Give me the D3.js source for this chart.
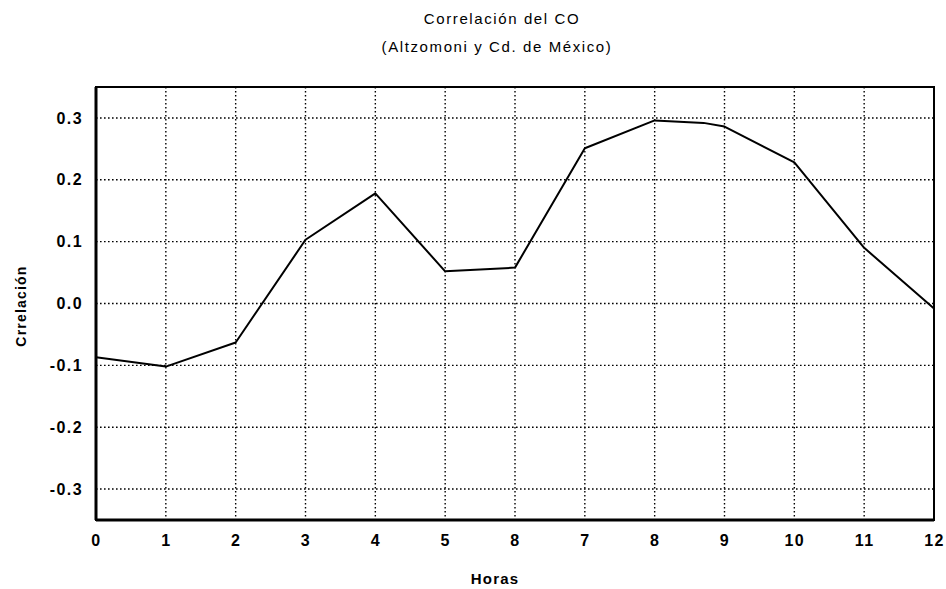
<!DOCTYPE html>
<html>
<head>
<meta charset="utf-8">
<script src="https://cdn.jsdelivr.net/npm/d3@7"></script>
<style>
  body { margin: 0; background: #fff; }
  text { font-family: Arial, "Liberation Sans", sans-serif; fill: #000; }
</style>
</head>
<body>
<div id="chart"></div>
<script>
// hours and correlation values
const horas = [0, 1, 2, 3, 4, 5, 6, 7, 8, 8.7, 9, 10, 11, 12];
const correlacion = [-0.087, -0.102, -0.063, 0.103, 0.178, 0.052, 0.058, 0.251, 0.296, 0.292, 0.286, 0.228, 0.090, -0.008];

const xTicks = [0, 1, 2, 3, 4, 5, 6, 7, 8, 9, 10, 11, 12];
const xTickLabels = ["0", "1", "2", "3", "4", "5", "8", "7", "8", "9", "10", "11", "12"];
const yTicks = [-0.3, -0.2, -0.1, 0.0, 0.1, 0.2, 0.3];

const W = 946, H = 589;
const margin = { l: 96, r: 12, t: 87, b: 69 };

const svg = d3.select("#chart").append("svg")
  .attr("width", W)
  .attr("height", H);

const x = d3.scaleLinear().domain([0, 12]).range([margin.l, W - margin.r]);
const y = d3.scaleLinear().domain([-0.35, 0.35]).range([H - margin.b, margin.t]);

// grid
const grid = svg.append("g")
  .attr("stroke", "#000")
  .attr("stroke-width", 1.4)
  .attr("stroke-dasharray", "1.6,2.4");

grid.selectAll(".gx")
  .data(xTicks.slice(1, -1))
  .join("line")
  .attr("x1", d => x(d)).attr("x2", d => x(d))
  .attr("y1", margin.t).attr("y2", H - margin.b);

grid.selectAll(".gy")
  .data(yTicks)
  .join("line")
  .attr("x1", margin.l).attr("x2", W - margin.r)
  .attr("y1", d => y(d)).attr("y2", d => y(d));

// frame
svg.append("rect")
  .attr("x", margin.l)
  .attr("y", margin.t)
  .attr("width", W - margin.l - margin.r)
  .attr("height", H - margin.t - margin.b)
  .attr("fill", "none")
  .attr("stroke", "#000")
  .attr("stroke-width", 2);

svg.append("line")
  .attr("x1", margin.l).attr("x2", margin.l)
  .attr("y1", margin.t).attr("y2", H - margin.b)
  .attr("stroke", "#000").attr("stroke-width", 3);

svg.append("line")
  .attr("x1", margin.l).attr("x2", W - margin.r)
  .attr("y1", H - margin.b).attr("y2", H - margin.b)
  .attr("stroke", "#000").attr("stroke-width", 3);

// axes labels
const yAxis = d3.axisLeft(y)
  .tickValues(yTicks)
  .tickSize(0)
  .tickPadding(13)
  .tickFormat(d => d3.format(".1f")(d).replace("−", "-"));

const gy = svg.append("g")
  .attr("transform", `translate(${margin.l},0)`)
  .call(yAxis);
gy.select(".domain").remove();
gy.selectAll("text")
  .attr("font-size", 16)
  .attr("font-weight", "bold")
  .attr("letter-spacing", 1.4)
  .attr("font-family", "Arial, 'Liberation Sans', sans-serif");

const xAxis = d3.axisBottom(x)
  .tickValues(xTicks)
  .tickSize(0)
  .tickPadding(15)
  .tickFormat((d, i) => xTickLabels[i]);

const gx = svg.append("g")
  .attr("transform", `translate(0,${H - margin.b})`)
  .call(xAxis);
gx.select(".domain").remove();
gx.selectAll("text")
  .attr("font-size", 16)
  .attr("font-weight", "bold")
  .attr("letter-spacing", 1.4)
  .attr("font-family", "Arial, 'Liberation Sans', sans-serif");

// data line
const line = d3.line()
  .x((d, i) => x(horas[i]))
  .y(d => y(d));

svg.append("path")
  .datum(correlacion)
  .attr("d", line)
  .attr("fill", "none")
  .attr("stroke", "#000")
  .attr("stroke-width", 2)
  .attr("stroke-linejoin", "round");

// titles
svg.append("text")
  .attr("x", 502)
  .attr("y", 24)
  .attr("text-anchor", "middle")
  .attr("font-size", 15)
  .attr("letter-spacing", 1.6)
  .text("Correlación del CO");

svg.append("text")
  .attr("x", 497)
  .attr("y", 52)
  .attr("text-anchor", "middle")
  .attr("font-size", 15)
  .attr("letter-spacing", 1.6)
  .text("(Altzomoni y Cd. de México)");

svg.append("text")
  .attr("x", 495)
  .attr("y", 584)
  .attr("text-anchor", "middle")
  .attr("font-size", 15)
  .attr("font-weight", "bold")
  .attr("letter-spacing", 1.2)
  .text("Horas");

svg.append("text")
  .attr("transform", "translate(26,306) rotate(-90)")
  .attr("text-anchor", "middle")
  .attr("font-size", 14)
  .attr("font-weight", "bold")
  .attr("letter-spacing", 1.2)
  .text("Crrelación");
</script>
</body>
</html>
